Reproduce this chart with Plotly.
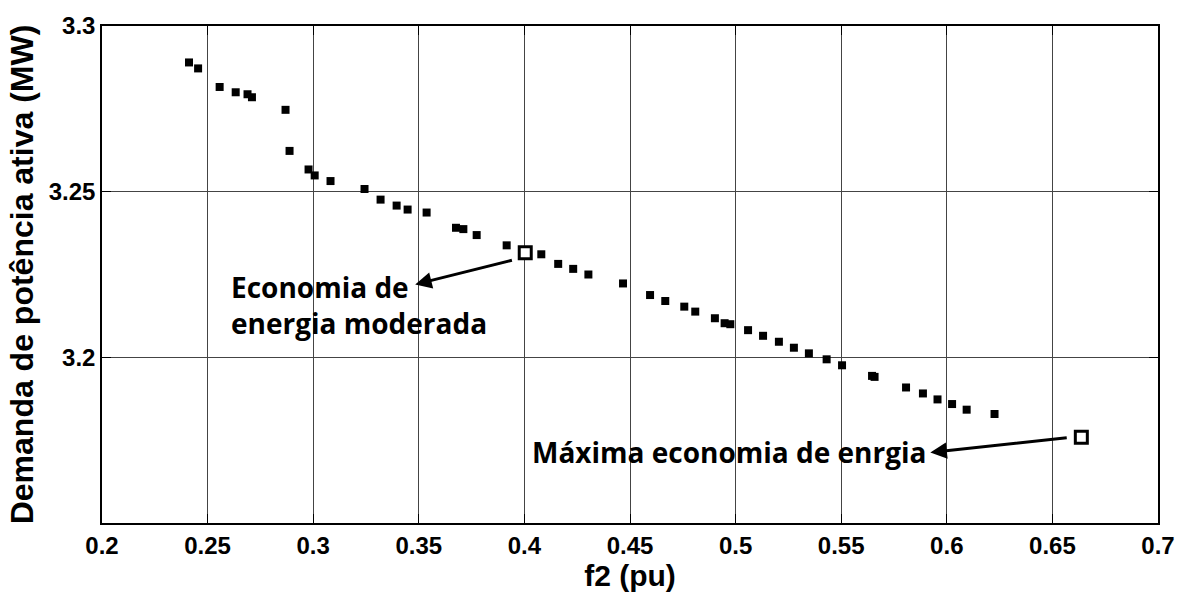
import plotly.graph_objects as go

# Pareto front: f2 (pu) vs active power demand (MW)
f2_pu = [0.2412, 0.2455, 0.2557, 0.2633, 0.2689, 0.2710, 0.2869, 0.2888,
         0.2978, 0.3007, 0.3082, 0.3243, 0.3319, 0.3395, 0.3447, 0.3537,
         0.3676, 0.3711, 0.3774, 0.3916, 0.4080, 0.4160, 0.4231, 0.4303,
         0.4467, 0.4595, 0.4667, 0.4757, 0.4809, 0.4902, 0.4948, 0.4975,
         0.5059, 0.5130, 0.5205, 0.5276, 0.5347, 0.5431, 0.5504, 0.5646,
         0.5658, 0.5807, 0.5887, 0.5956, 0.6025, 0.6094, 0.6226]
demanda_mw = [3.2890, 3.2872, 3.2816, 3.2800, 3.2794, 3.2785, 3.2747, 3.2623,
              3.2567, 3.2549, 3.2532, 3.2508, 3.2476, 3.2458, 3.2446, 3.2437,
              3.2391, 3.2387, 3.2369, 3.2338, 3.2311, 3.2282, 3.2267, 3.2250,
              3.2223, 3.2188, 3.2170, 3.2153, 3.2138, 3.2118, 3.2103, 3.2100,
              3.2082, 3.2065, 3.2047, 3.2029, 3.2012, 3.1994, 3.1976, 3.1944,
              3.1941, 3.1909, 3.1891, 3.1873, 3.1859, 3.1842, 3.1829]

# Highlighted solutions
destaque_f2 = [0.4004, 0.6637]
destaque_mw = [3.2316, 3.1759]

x_ticks = [0.2, 0.25, 0.3, 0.35, 0.4, 0.45, 0.5, 0.55, 0.6, 0.65, 0.7]
x_ticktext = ["0.2", "0.25", "0.3", "0.35", "0.4", "0.45", "0.5", "0.55", "0.6", "0.65", "0.7"]
y_ticks = [3.2, 3.25, 3.3]
y_ticktext = ["3.2", "3.25", "3.3"]

axis_family = "Liberation Sans, Arial, sans-serif"
note_font = dict(family="Open Sans, sans-serif", color="black", size=28, weight="bold")

fig = go.Figure()
fig.add_trace(go.Scatter(
    x=f2_pu, y=demanda_mw, mode="markers",
    marker=dict(symbol="square", size=8, color="black", line=dict(width=0)),
    showlegend=False, hoverinfo="skip"))
fig.add_trace(go.Scatter(
    x=destaque_f2, y=destaque_mw, mode="markers",
    marker=dict(symbol="square", size=12, color="white", line=dict(width=3, color="black")),
    showlegend=False, hoverinfo="skip"))

axis_common = dict(
    showline=True, linecolor="black", linewidth=1.5, mirror="ticks",
    ticks="inside", ticklen=9, tickwidth=1, tickcolor="black",
    showgrid=True, gridcolor="#444444", gridwidth=1, zeroline=False,
)

fig.update_xaxes(
    range=[0.2, 0.7], tickvals=x_ticks,
    ticktext=["<b>%s</b>" % t for t in x_ticktext],
    tickfont=dict(size=24, family=axis_family, color="black"),
    title=dict(text="<b>f2 (pu)</b>", font=dict(size=30, family=axis_family, color="black"), standoff=0),
    **axis_common)
fig.update_yaxes(
    range=[3.15, 3.3], tickvals=y_ticks,
    ticktext=["<b>%s</b>" % t for t in y_ticktext],
    tickfont=dict(size=24, family=axis_family, color="black"),
    title=dict(text="<b>Demanda de potência ativa (MW)</b>",
               font=dict(size=32, family=axis_family, color="black"), standoff=6),
    **axis_common)

# Text labels
fig.add_annotation(x=0.2599, y=3.2158, xref="x", yref="y",
                   text="Economia de<br>energia moderada", showarrow=False,
                   xanchor="left", yanchor="middle", align="left", font=note_font)
fig.add_annotation(x=0.5912, y=3.1714, xref="x", yref="y",
                   text="Máxima economia de enrgia", showarrow=False,
                   xanchor="right", yanchor="middle", align="right", font=note_font)

# Arrows from the highlighted solutions to their labels
fig.add_annotation(x=0.3483, y=3.2220, ax=0.3948, ay=3.2294,
                   xref="x", yref="y", axref="x", ayref="y", text="",
                   showarrow=True, arrowhead=2, arrowsize=1.1, arrowwidth=3, arrowcolor="black")
fig.add_annotation(x=0.5922, y=3.1713, ax=0.6575, ay=3.1758,
                   xref="x", yref="y", axref="x", ayref="y", text="",
                   showarrow=True, arrowhead=2, arrowsize=1.1, arrowwidth=3, arrowcolor="black")

fig.update_layout(
    width=1187, height=592,
    margin=dict(l=102, r=29, t=15, b=66),
    paper_bgcolor="white", plot_bgcolor="white",
)

fig.write_html("out.html")
